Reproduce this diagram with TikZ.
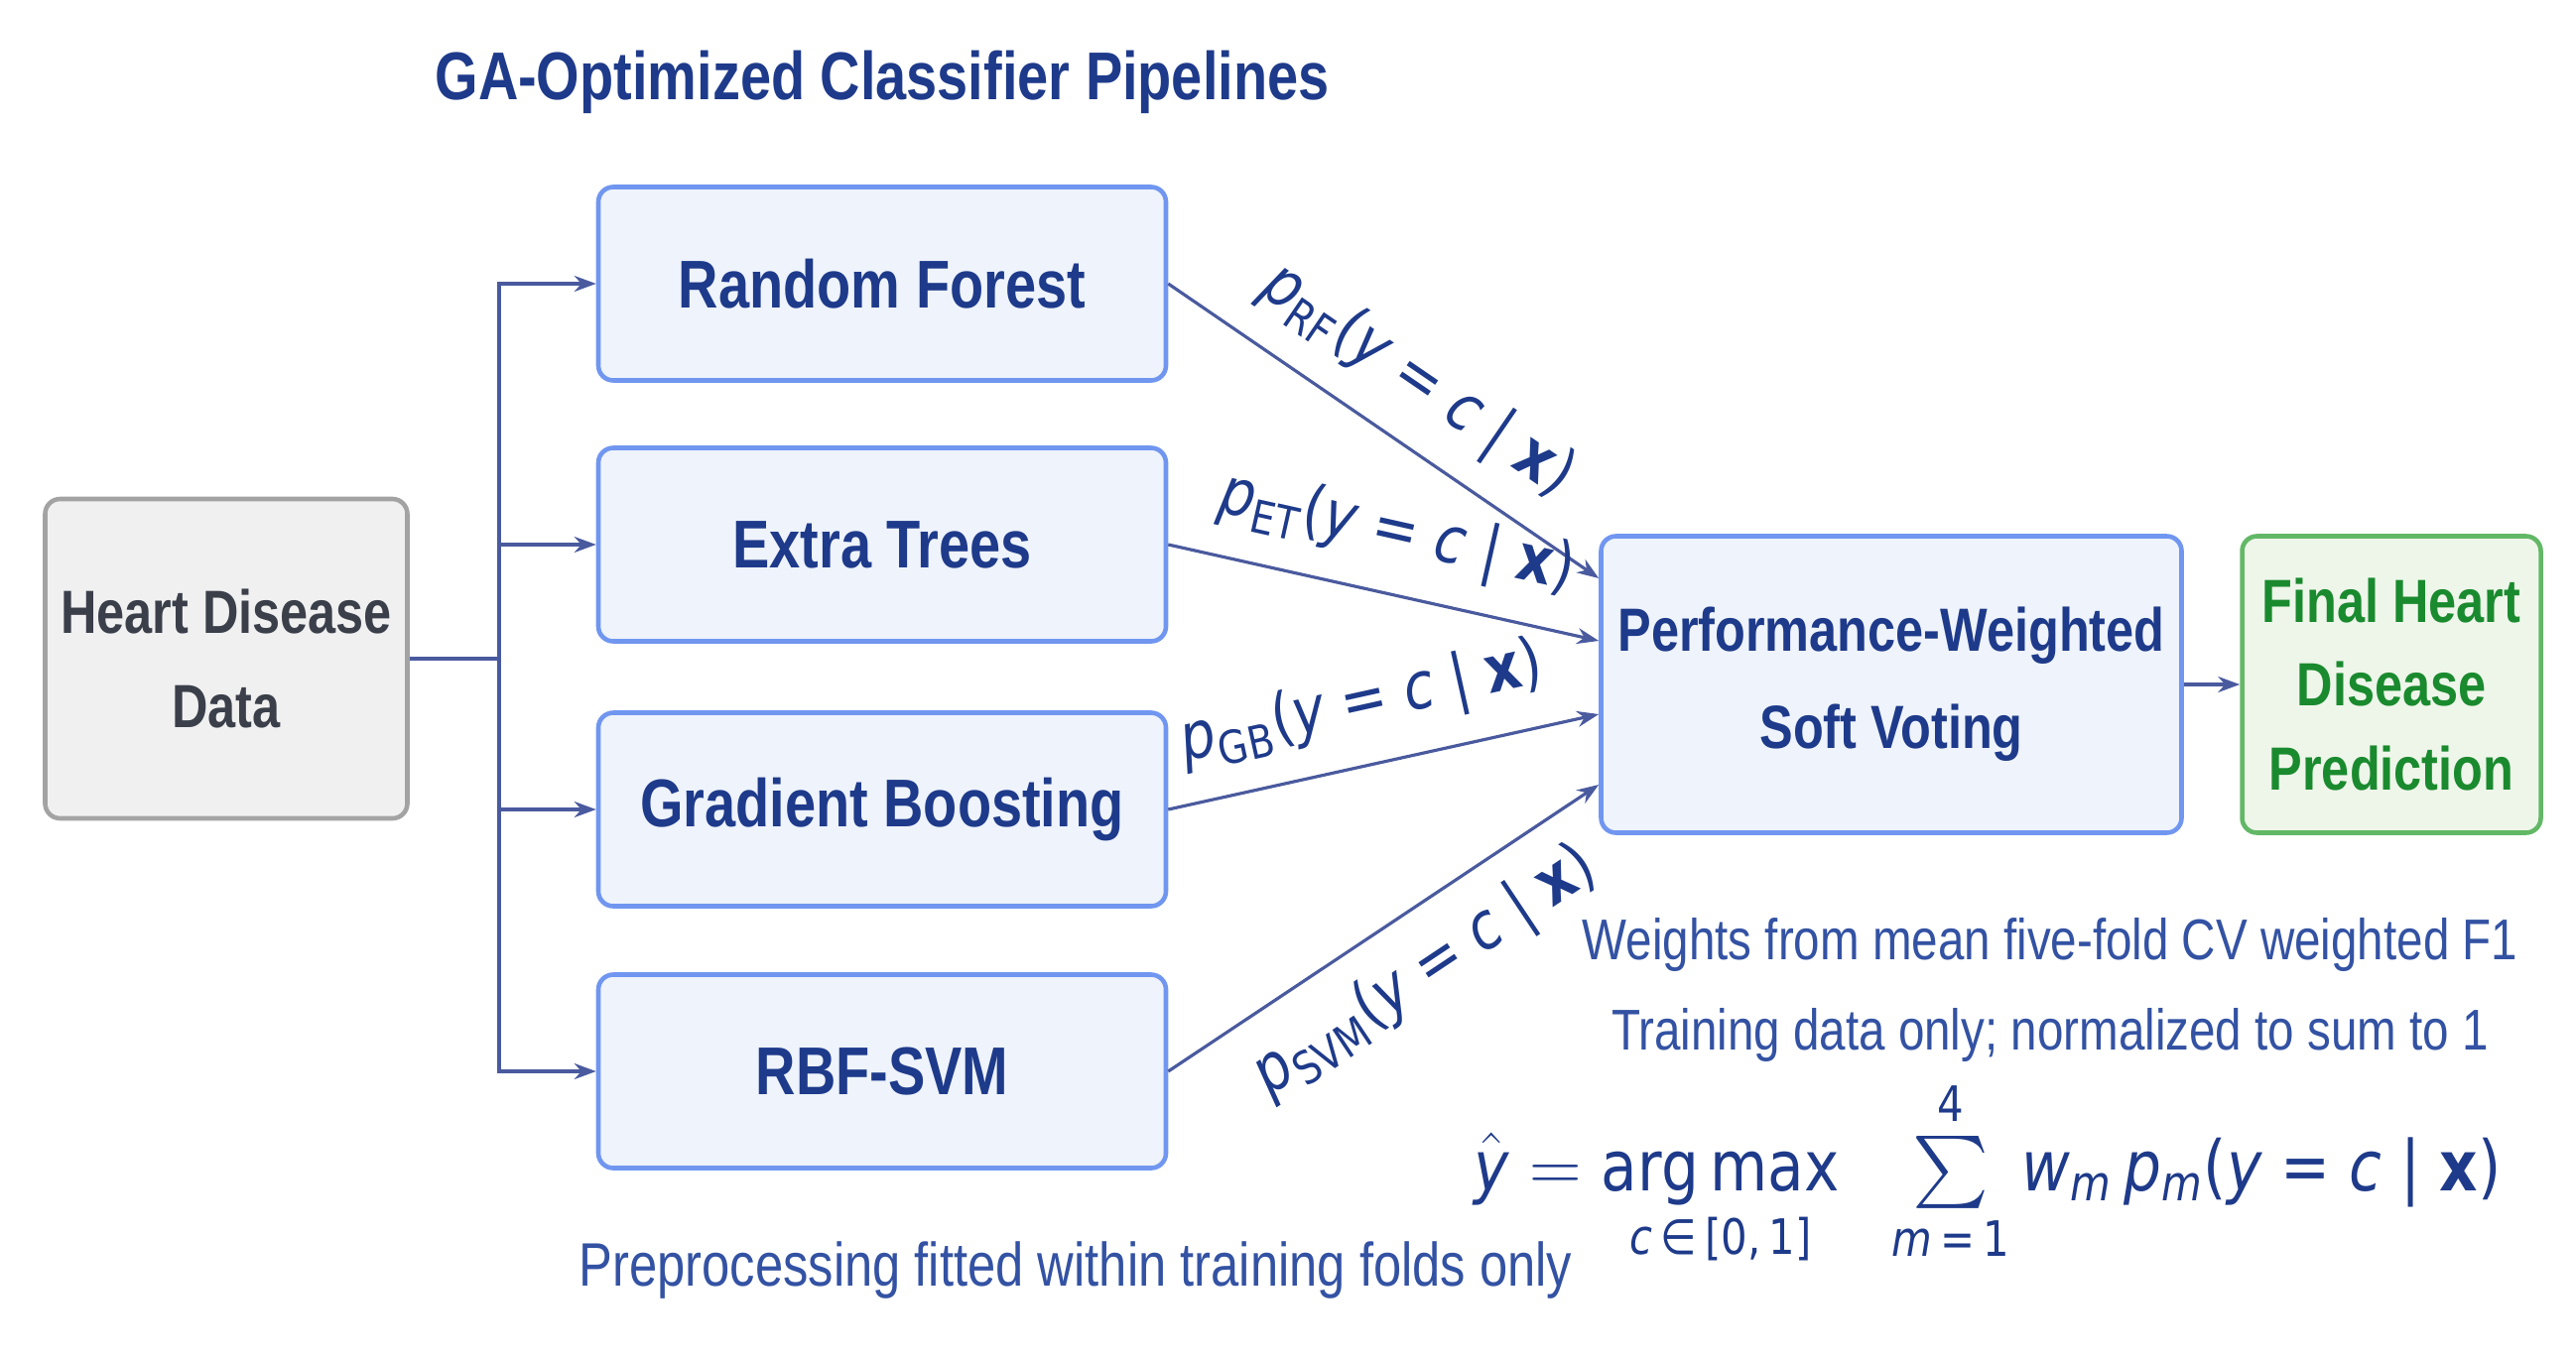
\documentclass[tikz,border=0pt]{standalone}
\usepackage{amsmath}
\usepackage{fontspec}
\setmainfont{Liberation Sans}[FakeStretch=0.82]
\newfontfamily\dvfont{DejaVu Sans}[FakeStretch=0.85]
\usetikzlibrary{arrows.meta}
\definecolor{custom-navy}{HTML}{1E3A8A}
\definecolor{custom-note}{HTML}{3352A3}
\definecolor{custom-link}{HTML}{4A5A9E}
\definecolor{custom-blue-fill}{HTML}{EEF3FC}
\definecolor{custom-blue-edge}{HTML}{7096F0}
\definecolor{custom-gray-fill}{HTML}{F0F0F0}
\definecolor{custom-gray-edge}{HTML}{A3A3A3}
\definecolor{custom-gray-text}{HTML}{3A3F4A}
\definecolor{custom-green-fill}{HTML}{EEF6EA}
\definecolor{custom-green-edge}{HTML}{62B866}
\definecolor{custom-green-text}{HTML}{1A8A2E}
\newcommand{\probof}[1]{{\dvfont\itshape p\textsubscript{\upshape #1}\upshape(\itshape y\upshape\ =\ \itshape c\upshape\ |\ \bfseries x\mdseries)}}

\begin{document}
\begin{tikzpicture}[x=0.1mm, y=-0.1mm,
    boxtext/.style={font=\bfseries\fontsize{17.5}{27}\selectfont, align=center},
    model/.style={boxtext, draw=custom-blue-edge, fill=custom-blue-fill, line width=1.3pt,
        rounded corners=1.5mm, text=custom-navy, minimum width=57.2mm, minimum height=19.5mm,
        font=\bfseries\fontsize{19.4}{27}\selectfont},
    databox/.style={boxtext, draw=custom-gray-edge, fill=custom-gray-fill, line width=1.3pt,
        rounded corners=1.5mm, text=custom-gray-text, minimum width=36.5mm, minimum height=32.2mm},
    vote/.style={boxtext, draw=custom-blue-edge, fill=custom-blue-fill, line width=1.3pt,
        rounded corners=1.5mm, text=custom-navy, minimum width=58.5mm, minimum height=29.9mm,
        font=\bfseries\fontsize{17.5}{28}\selectfont},
    final/.style={boxtext, draw=custom-green-edge, fill=custom-green-fill, line width=1.3pt,
        rounded corners=1.5mm, text=custom-green-text, minimum width=30.1mm, minimum height=29.9mm,
        font=\bfseries\fontsize{17.5}{24}\selectfont},
    link/.style={draw=custom-link, line width=0.9pt},
    flow/.style={link, -{Stealth[length=2.2mm, width=1.6mm]}},
    problabel/.style={text=custom-navy, font=\fontsize{18.6}{20}\selectfont, sloped, inner sep=1pt},
    note/.style={text=custom-note, font=\fontsize{16.5}{20}\selectfont}]
\useasboundingbox (0,0) rectangle (2596,1370);

\node[text=custom-navy, font=\bfseries\fontsize{19.4}{22}\selectfont] (title) at (889,83) {GA-Optimized Classifier Pipelines};

\node[databox] (data) at (228,664) {Heart Disease\\Data};

\node[model] (rf) at (889,286) {Random Forest};
\node[model] (et) at (889,549) {Extra Trees};
\node[model] (gb) at (889,816) {Gradient Boosting};
\node[model] (svm) at (889,1080) {RBF-SVM};

\node[vote] (vote) at (1906,690) {Performance-Weighted\\Soft Voting};
\node[final] (final) at (2410,690) {Final Heart\\Disease\\Prediction};

% data fans out to the four pipelines
\coordinate (split) at (503,664);
\draw[link] (data.east) -- (split);
\foreach \m in {rf,et,gb,svm}
    \draw[flow] (split) |- (\m.west);

% class probabilities into the voter
\draw[flow] (rf.east) -- node[problabel, above=2.3mm, pos=0.5] {\probof{RF}} ([yshift=10.7mm]vote.west);
\draw[flow] (et.east) -- node[problabel, above=2.3mm, pos=0.5] {\probof{ET}} ([yshift=4.4mm]vote.west);
\draw[flow] (gb.east) -- node[problabel, above=2.3mm, pos=0.48] {\probof{GB}} ([yshift=-3mm]vote.west);
\draw[flow] (svm.east) -- node[problabel, below=2.3mm, pos=0.52] {\probof{SVM}} ([yshift=-10.1mm]vote.west);

\draw[flow] (vote.east) -- (final.west);

\node[note] (weights) at (2066,952) {Weights from mean five-fold CV weighted F1};
\node[note] (training) at (2066,1043) {Training data only; normalized to sum to 1};
\node[note, font=\fontsize{17.6}{20}\selectfont] (preproc) at (1084,1280) {Preprocessing fitted within training folds only};

\node[text=custom-navy, anchor=base, font=\fontsize{20}{24}\selectfont] (rule) at (2003,1200)
    {$\hat{\text{\dvfont\itshape y}} = \mathop{\text{\dvfont arg\,max}}\limits_{\text{\dvfont\itshape c\upshape\,∈\,[0,\,1]}}
     \;\;\sum\limits_{\text{\dvfont\itshape m\upshape\,=\,1}}^{\text{\dvfont 4}}
     \text{\dvfont\itshape w\textsubscript{m}\,p\textsubscript{m}\upshape(\itshape y\upshape\ =\ \itshape c\upshape\ |\ \bfseries x\mdseries)}$};
\end{tikzpicture}
\end{document}
